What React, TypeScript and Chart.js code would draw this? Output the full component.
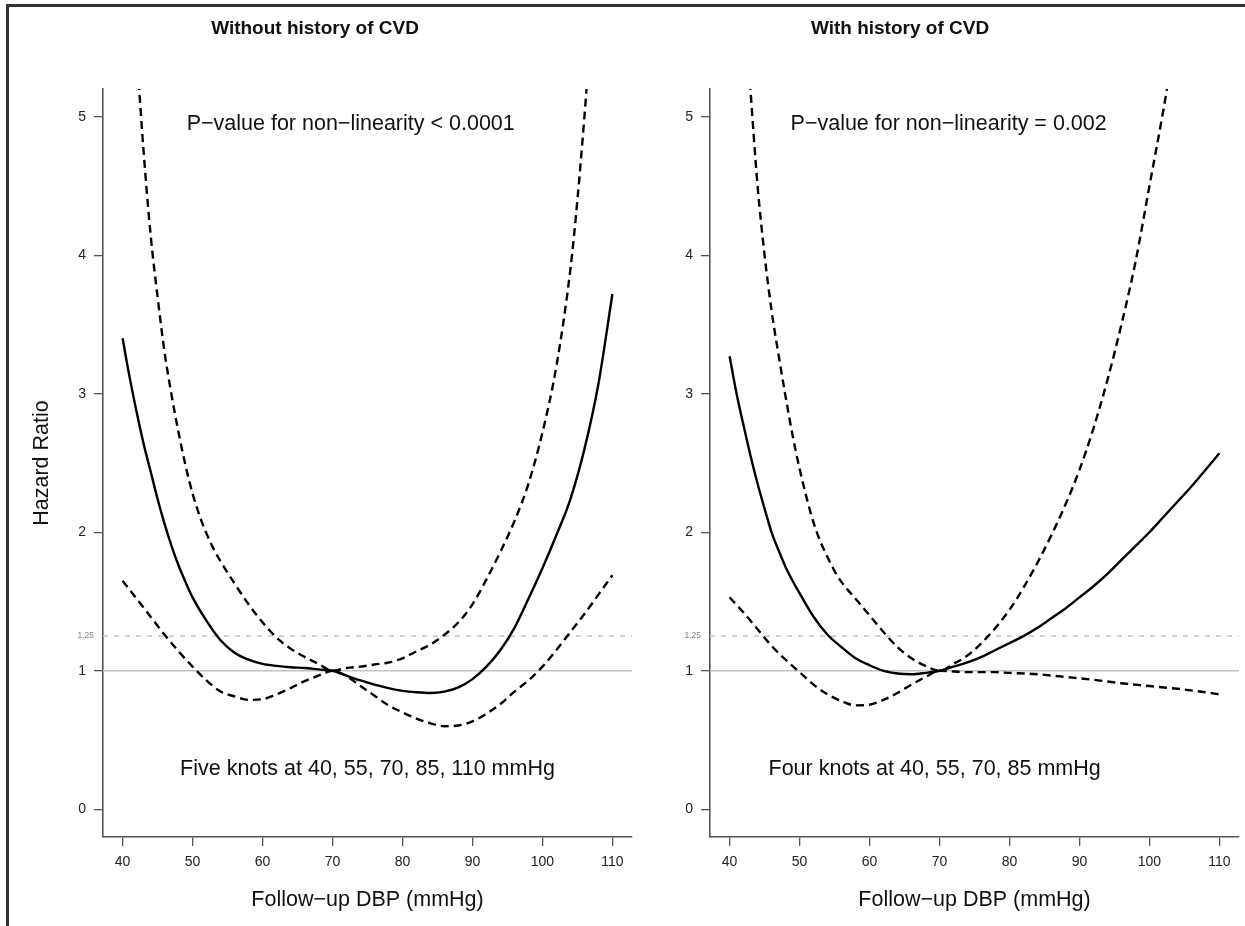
import React, { useEffect, useRef } from "react";
import { Chart, registerables } from "chart.js";

Chart.register(...registerables);

// ---------- data ----------
const xTicks = [40, 50, 60, 70, 80, 90, 100, 110];
const yTicks = [0, 1, 2, 3, 4, 5];
const xRange = [37.2, 112.8];
const yRange = [-0.2, 5.2];
const refSolid = 1;
const refDashed = 1.25;
const refDashedLabel = "1.25";

const leftTitle = "Without history of CVD";
const rightTitle = "With history of CVD";
const leftPText = "P\u2212value for non\u2212linearity < 0.0001";
const rightPText = "P\u2212value for non\u2212linearity = 0.002";
const leftKnotText = "Five knots at 40, 55, 70, 85, 110 mmHg";
const rightKnotText = "Four knots at 40, 55, 70, 85 mmHg";
const xTitle = "Follow\u2212up DBP (mmHg)";
const yTitle = "Hazard Ratio";

// Left panel (without history of CVD)
const leftFitX = [40, 41, 42, 43, 44, 45, 46, 47, 48, 49, 50, 52, 54, 56, 58, 60, 62, 64, 66, 68, 70, 72, 74, 76, 78, 80, 82, 84, 86, 88, 90, 92, 94, 96, 98, 100, 102, 104, 106, 108, 110];
const leftFitY = [3.40, 3.12, 2.87, 2.64, 2.44, 2.24, 2.06, 1.90, 1.76, 1.64, 1.53, 1.36, 1.22, 1.13, 1.08, 1.05, 1.035, 1.025, 1.02, 1.01, 1.0, 0.965, 0.93, 0.9, 0.875, 0.855, 0.845, 0.84, 0.85, 0.88, 0.94, 1.03, 1.15, 1.31, 1.52, 1.74, 1.98, 2.24, 2.6, 3.07, 3.72];

const leftUpX = [42.3, 43, 44, 45, 46, 47, 48, 49, 50, 51, 52, 53, 54, 56, 58, 60, 62, 64, 66, 68, 70, 72, 74, 76, 78, 80, 82, 84, 86, 88, 90, 92, 94, 96, 98, 100, 102, 104, 105, 106, 106.6];
const leftUpY = [5.25, 4.75, 4.15, 3.7, 3.3, 2.99, 2.72, 2.48, 2.28, 2.12, 1.99, 1.88, 1.79, 1.63, 1.48, 1.35, 1.24, 1.16, 1.1, 1.05, 1.0, 1.02, 1.03, 1.045, 1.06, 1.09, 1.14, 1.19, 1.26, 1.35, 1.48, 1.66, 1.86, 2.08, 2.35, 2.72, 3.2, 3.9, 4.4, 5.0, 5.4];

const leftLoX = [40, 42, 44, 46, 48, 50, 52, 54, 56, 58, 60, 62, 64, 66, 68, 70, 72, 74, 76, 78, 80, 82, 84, 86, 88, 90, 92, 94, 96, 98, 100, 102, 104, 106, 108, 110];
const leftLoY = [1.65, 1.52, 1.39, 1.26, 1.14, 1.03, 0.93, 0.85, 0.815, 0.79, 0.795, 0.83, 0.875, 0.925, 0.965, 1.0, 0.96, 0.89, 0.82, 0.75, 0.7, 0.655, 0.62, 0.6, 0.605, 0.635, 0.69, 0.76, 0.85, 0.93, 1.03, 1.15, 1.28, 1.41, 1.55, 1.69];

// Right panel (with history of CVD)
const rightFitX = [40, 41, 42, 43, 44, 45, 46, 47, 48, 49, 50, 52, 54, 56, 58, 60, 62, 64, 66, 68, 70, 72, 74, 76, 78, 80, 82, 84, 86, 88, 90, 92, 94, 96, 98, 100, 102, 104, 106, 108, 110];
const rightFitY = [3.27, 3.0, 2.77, 2.55, 2.35, 2.17, 2.0, 1.87, 1.75, 1.65, 1.56, 1.39, 1.26, 1.17, 1.09, 1.04, 1.0, 0.98, 0.975, 0.985, 1.0, 1.03, 1.06, 1.1, 1.15, 1.2, 1.25, 1.31, 1.38, 1.45, 1.53, 1.61, 1.7, 1.8, 1.9, 2.0, 2.11, 2.22, 2.33, 2.45, 2.57];

const rightUpX = [42.9, 44, 45, 46, 47, 48, 49, 50, 51, 52, 53, 54, 55, 56, 58, 60, 62, 64, 66, 68, 70, 72, 74, 76, 78, 80, 82, 84, 86, 88, 90, 92, 94, 96, 98, 100, 102, 103];
const rightUpY = [5.25, 4.5, 4.0, 3.6, 3.28, 2.98, 2.7, 2.46, 2.25, 2.07, 1.93, 1.82, 1.72, 1.64, 1.52, 1.4, 1.28, 1.17, 1.09, 1.035, 1.0, 1.05, 1.11, 1.2, 1.31, 1.44, 1.6, 1.78, 1.98, 2.2, 2.45, 2.75, 3.1, 3.5, 3.95, 4.5, 5.05, 5.35];

const rightLoX = [40, 42, 44, 46, 48, 50, 52, 54, 56, 58, 60, 62, 64, 66, 68, 70, 72, 74, 76, 78, 80, 84, 88, 92, 96, 100, 104, 108, 110];
const rightLoY = [1.53, 1.42, 1.3, 1.18, 1.08, 0.99, 0.9, 0.83, 0.78, 0.75, 0.755, 0.79, 0.84, 0.9, 0.955, 1.0, 0.995, 0.99, 0.99, 0.99, 0.985, 0.975, 0.955, 0.935, 0.91, 0.89, 0.87, 0.845, 0.83];

// ---------- helpers ----------
const FONT = "'Liberation Sans', Arial, Helvetica, sans-serif";

const pts = (xs: number[], ys: number[]) => xs.map((x, i) => ({ x, y: ys[i] }));

type PanelSpec = {
  fit: [number[], number[]];
  up: [number[], number[]];
  lo: [number[], number[]];
  title: string;
  titleX: number;
  pText: string;
  pAt: [number, number];
  knotText: string;
  knotAt: [number, number];
  yAxisWidth: number;
  padRight: number;
  showYTitle: boolean;
};

function makeOverlay(spec: PanelSpec) {
  return {
    id: "overlay",
    beforeDatasetsDraw(chart: any) {
      const { ctx, chartArea: a, scales } = chart;
      const y = scales.y;
      ctx.save();
      const y1 = y.getPixelForValue(refSolid);
      ctx.strokeStyle = "#c2c2c2";
      ctx.lineWidth = 1.6;
      ctx.setLineDash([]);
      ctx.beginPath();
      ctx.moveTo(a.left, y1);
      ctx.lineTo(a.right, y1);
      ctx.stroke();
      const y2 = y.getPixelForValue(refDashed);
      ctx.strokeStyle = "#cdcdcd";
      ctx.setLineDash([5, 6]);
      ctx.beginPath();
      ctx.moveTo(a.left, y2);
      ctx.lineTo(a.right, y2);
      ctx.stroke();
      ctx.setLineDash([]);
      ctx.fillStyle = "#808080";
      ctx.font = `8.5px ${FONT}`;
      ctx.textAlign = "right";
      ctx.textBaseline = "middle";
      ctx.fillText(refDashedLabel, a.left - 9, y2);
      ctx.restore();
    },
    afterDraw(chart: any) {
      const { ctx, scales } = chart;
      const { x, y } = scales;
      ctx.save();
      ctx.fillStyle = "#111";
      ctx.textAlign = "center";
      ctx.textBaseline = "middle";
      ctx.font = `bold 19px ${FONT}`;
      ctx.fillText(spec.title, spec.titleX, 29);
      ctx.font = `21.5px ${FONT}`;
      ctx.fillText(spec.pText, x.getPixelForValue(spec.pAt[0]), y.getPixelForValue(spec.pAt[1]));
      ctx.fillText(spec.knotText, x.getPixelForValue(spec.knotAt[0]), y.getPixelForValue(spec.knotAt[1]));
      ctx.restore();
    },
  };
}

function buildChart(canvas: HTMLCanvasElement, spec: PanelSpec) {
  const line = (d: { x: number; y: number }[], dashed: boolean) => ({
    data: d,
    borderColor: "#000",
    borderWidth: 2.4,
    borderDash: dashed ? [8, 5] : [],
    pointRadius: 0,
    fill: false,
    cubicInterpolationMode: "monotone" as const,
    clip: 0,
  });
  return new Chart(canvas, {
    type: "line",
    data: {
      datasets: [
        line(pts(spec.fit[0], spec.fit[1]), false),
        line(pts(spec.up[0], spec.up[1]), true),
        line(pts(spec.lo[0], spec.lo[1]), true),
      ],
    },
    options: {
      animation: false,
      responsive: false,
      devicePixelRatio: 1,
      layout: { padding: { left: 0, top: 89, right: spec.padRight, bottom: 0 } },
      plugins: { legend: { display: false }, tooltip: { enabled: false }, title: { display: false } },
      scales: {
        x: {
          type: "linear",
          min: xRange[0],
          max: xRange[1],
          afterBuildTicks: (axis: any) => {
            axis.ticks = xTicks.map((v) => ({ value: v }));
          },
          afterFit: (axis: any) => {
            axis.height = 89;
          },
          grid: { drawOnChartArea: false, drawTicks: true, tickLength: 9, color: "#555", lineWidth: 1.3 },
          border: { display: true, color: "#555", width: 1.6 },
          ticks: {
            color: "#222",
            font: { family: FONT, size: 14 },
            padding: 8,
            maxRotation: 0,
            autoSkip: false,
            callback: (v: any) => String(v),
          },
          title: {
            display: true,
            text: xTitle,
            color: "#111",
            font: { family: FONT, size: 21.5 },
            padding: { top: 0, bottom: 13 },
          },
        },
        y: {
          type: "linear",
          min: yRange[0],
          max: yRange[1],
          afterBuildTicks: (axis: any) => {
            axis.ticks = yTicks.map((v) => ({ value: v }));
          },
          afterFit: (axis: any) => {
            axis.width = spec.yAxisWidth;
          },
          grid: { drawOnChartArea: false, drawTicks: true, tickLength: 9, color: "#555", lineWidth: 1.3 },
          border: { display: true, color: "#555", width: 1.6 },
          ticks: {
            color: "#222",
            font: { family: FONT, size: 14 },
            padding: 8,
            autoSkip: false,
            callback: (v: any) => String(v),
          },
          title: {
            display: spec.showYTitle,
            text: yTitle,
            color: "#111",
            font: { family: FONT, size: 21.5 },
            padding: { top: 29, bottom: 0 },
          },
        },
      },
    },
    plugins: [makeOverlay(spec)],
  });
}

const leftSpec: PanelSpec = {
  fit: [leftFitX, leftFitY],
  up: [leftUpX, leftUpY],
  lo: [leftLoX, leftLoY],
  title: leftTitle,
  titleX: 315,
  pText: leftPText,
  pAt: [72.6, 4.95],
  knotText: leftKnotText,
  knotAt: [75, 0.29],
  yAxisWidth: 103,
  padRight: 8,
  showYTitle: true,
};

const rightSpec: PanelSpec = {
  fit: [rightFitX, rightFitY],
  up: [rightUpX, rightUpY],
  lo: [rightLoX, rightLoY],
  title: rightTitle,
  titleX: 260,
  pText: rightPText,
  pAt: [71.3, 4.95],
  knotText: rightKnotText,
  knotAt: [69.3, 0.29],
  yAxisWidth: 70,
  padRight: 6,
  showYTitle: false,
};

function Panel({ spec, left, width }: { spec: PanelSpec; left: number; width: number }) {
  const ref = useRef<HTMLCanvasElement | null>(null);
  useEffect(() => {
    if (!ref.current) return;
    const chart = buildChart(ref.current, spec);
    return () => chart.destroy();
  }, [spec]);
  return (
    <canvas
      ref={ref}
      width={width}
      height={926}
      style={{ position: "absolute", left, top: 0, width, height: 926 }}
    />
  );
}

export default function App() {
  return (
    <div
      style={{
        position: "absolute",
        left: 0,
        top: 0,
        width: 1245,
        height: 926,
        overflow: "hidden",
        background: "#fff",
      }}
    >
      <div
        style={{
          position: "absolute",
          left: 6,
          top: 4,
          width: 1260,
          height: 940,
          borderTop: "3px solid #333",
          borderLeft: "3px solid #333",
          boxSizing: "border-box",
        }}
      />
      <Panel spec={leftSpec} left={0} width={640} />
      <Panel spec={rightSpec} left={640} width={605} />
    </div>
  );
}
